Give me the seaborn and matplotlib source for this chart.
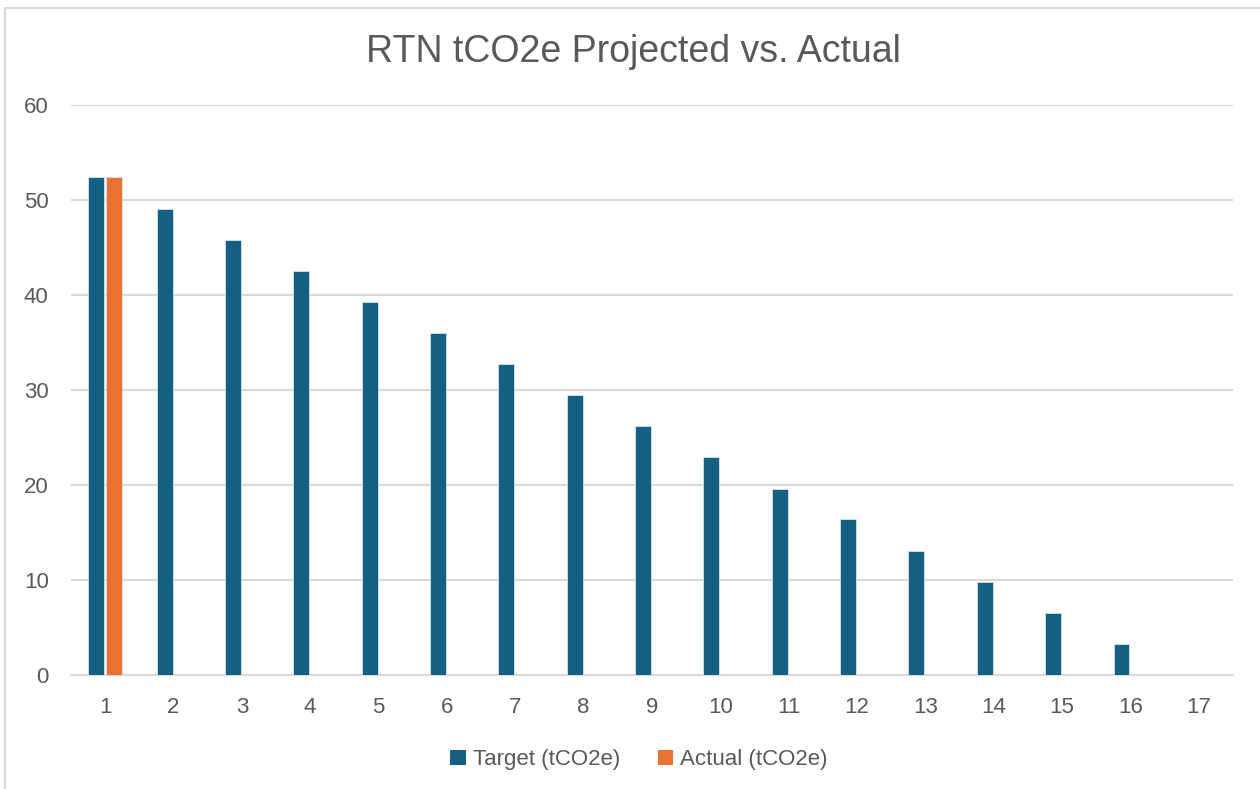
import pandas as pd
import numpy as np
import matplotlib.pyplot as plt
import seaborn as sns
from matplotlib.lines import Line2D
from matplotlib.patches import Patch

periods = list(range(1, 18))
target = [52.4, 49.1, 45.8, 42.5, 39.3, 36.0, 32.7, 29.5, 26.2, 22.9,
          19.6, 16.4, 13.1, 9.8, 6.5, 3.3, 0.0]
actual = [52.4] + [np.nan] * 16
series_names = ['Target (tCO2e)', 'Actual (tCO2e)']
colors = ['#156082', '#E97132']

df = pd.DataFrame({
    'Period': periods * 2,
    'Value': target + actual,
    'Series': [series_names[0]] * 17 + [series_names[1]] * 17,
})

sns.set_style('white')
plt.rcParams['font.family'] = ['Liberation Sans', 'DejaVu Sans']
text_color = '#595959'
grid_color = '#D9D9D9'

fig = plt.figure(figsize=(12.6, 7.89), dpi=100)
ax = fig.add_axes([0.0563, 0.1445, 0.9222, 0.7224])

sns.barplot(data=df, x='Period', y='Value', hue='Series', palette=colors,
            saturation=1, width=0.52, gap=0.1, ax=ax, legend=False,
            edgecolor='#D6E4EC', linewidth=0.6, zorder=3)

ax.set_ylim(0, 60)
ax.set_yticks(range(0, 61, 10))
ax.set_xlim(-0.5, 16.5)
ax.grid(axis='y', color=grid_color, linewidth=1.5, zorder=0)
ax.set_axisbelow(True)
for s in ['top', 'right', 'left']:
    ax.spines[s].set_visible(False)
ax.spines['bottom'].set_color(grid_color)
ax.spines['bottom'].set_linewidth(1.5)
ax.tick_params(axis='both', length=0, labelsize=16, labelcolor=text_color)
ax.tick_params(axis='x', pad=16)
ax.tick_params(axis='y', pad=16)
ax.set_xlabel('')
ax.set_ylabel('')

fig.text(0.503, 0.934, 'RTN tCO2e Projected vs. Actual', ha='center', va='center',
         fontsize=27, color=text_color)

handles = [Patch(facecolor=c, edgecolor='none') for c in colors]
fig.legend(handles, series_names, loc='center', bbox_to_anchor=(0.507, 0.037),
           ncol=2, frameon=False, fontsize=16, labelcolor=text_color,
           handlelength=0.7, handleheight=0.7, handletextpad=0.3,
           columnspacing=1.7)

# chart frame
fig.add_artist(Line2D([5 / 1260, 1], [1 - 8 / 789, 1 - 8 / 789],
                      transform=fig.transFigure, color=grid_color, linewidth=1.5))
fig.add_artist(Line2D([5 / 1260, 5 / 1260], [0, 1 - 8 / 789],
                      transform=fig.transFigure, color=grid_color, linewidth=1.5))

fig.savefig('out.png', dpi=100, facecolor='white')
